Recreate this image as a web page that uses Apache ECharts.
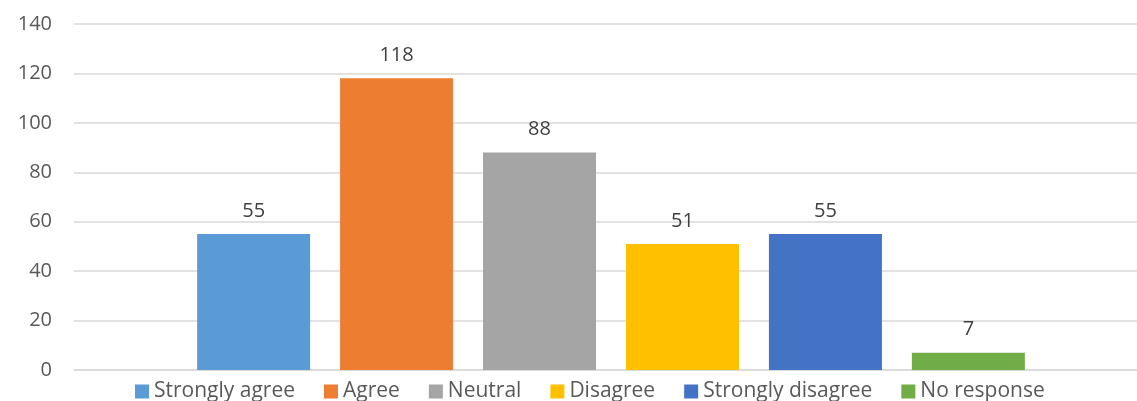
<!DOCTYPE html>
<html><head><meta charset="utf-8">
<script src="https://cdn.jsdelivr.net/npm/echarts@6/dist/echarts.min.js"></script>
<style>html,body{margin:0;padding:0;background:#fff;overflow:hidden}#c{width:1148px;height:401px}</style>
</head><body><div id="c"></div>
<script>
const seriesNames = ["Strongly agree","Agree","Neutral","Disagree","Strongly disagree","No response"];
const seriesValues = [55,118,88,51,55,7];
const seriesColors = ["#5B9BD5","#ED7D31","#A5A5A5","#FFC000","#4472C4","#70AD47"];
const categories = [""];
const yTicks = {min:0,max:140,interval:20};

const chart = echarts.init(document.getElementById('c'));
const FONT = "Open Sans";
chart.setOption({
  animation:false,
  textStyle:{fontFamily:FONT},
  grid:{left:74,top:24,width:1074,height:346,containLabel:false},
  legend:{
    left:130, top:376, itemWidth:14, itemHeight:14, itemGap:29, icon:'rect',
    textStyle:{fontFamily:FONT,fontSize:21,color:'#595959'},
    data:seriesNames
  },
  xAxis:{type:'category',data:categories,axisLine:{lineStyle:{color:'#d9d9d9',width:1.5}},axisTick:{show:false},axisLabel:{show:false}},
  yAxis:{type:'value',min:yTicks.min,max:yTicks.max,interval:yTicks.interval,
    axisLine:{show:false},axisTick:{show:false},
    splitLine:{lineStyle:{color:'#d9d9d9',width:1.5}},
    axisLabel:{fontFamily:FONT,fontSize:20,color:'#595959',margin:22}},
  series:seriesNames.map((n,i)=>({
    name:n,type:'bar',data:[seriesValues[i]],barWidth:113,barGap:'26.5%',
    itemStyle:{color:seriesColors[i]},
    label:{show:true,position:'top',distance:13,fontFamily:FONT,fontSize:20,color:'#404040'}
  }))
});
</script></body></html>
